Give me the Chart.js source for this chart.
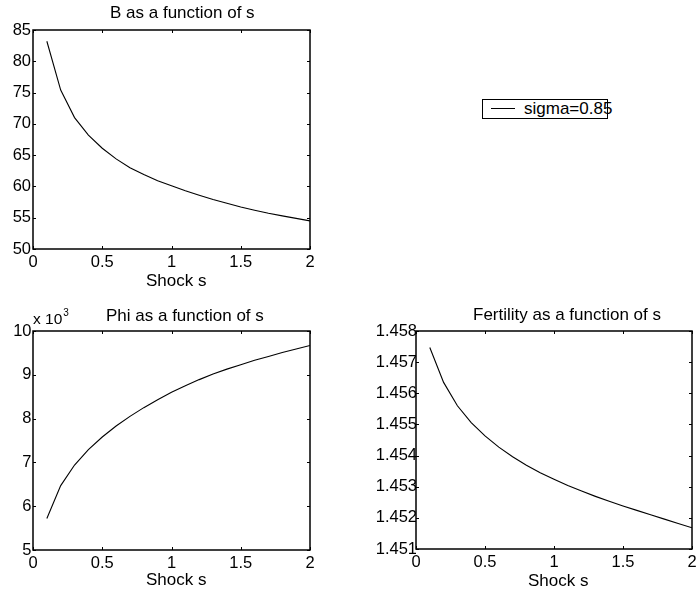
<!DOCTYPE html>
<html><head><meta charset="utf-8">
<script src="https://cdn.jsdelivr.net/npm/chart.js@4.4.0/dist/chart.umd.min.js"></script>
<style>
html,body{margin:0;padding:0;background:#fff;overflow:hidden;width:696px;height:594px;position:relative;}
canvas{position:absolute;}
.t{position:absolute;font-family:"Liberation Sans",Arial,sans-serif;font-size:17px;color:#000;white-space:nowrap;line-height:17px;}
</style></head><body>
<canvas id="c1" width="350" height="290" style="left:0;top:0;width:350px;height:290px"></canvas>
<canvas id="c2" width="350" height="301" style="left:0;top:290px;width:350px;height:301px"></canvas>
<canvas id="c3" width="360" height="300" style="left:350px;top:290px;width:360px;height:300px"></canvas>

<div class="t" style="left:110px;top:4px">B as a function of s</div>
<div class="t" style="left:146px;top:272px">Shock s</div>
<div class="t" style="left:106px;top:307px">Phi as a function of s</div>
<div class="t" style="left:146px;top:571px">Shock s</div>
<div class="t" style="left:473px;top:306px">Fertility as a function of s</div>
<div class="t" style="left:528px;top:572px">Shock s</div>
<div class="t" style="left:33px;top:311px;font-size:15.5px;line-height:15px">x 10<span style="font-size:10px;position:relative;top:-8px;margin-left:1px">3</span></div>

<div style="position:absolute;left:482px;top:99px;width:126px;height:20px;border:1.5px solid #000;box-sizing:border-box"></div>
<div style="position:absolute;left:491px;top:108px;width:24px;height:1px;background:#000"></div>
<div class="t" style="left:524px;top:100px">sigma=0.85</div>

<script>
// ---- data ----
const shock = [0.1,0.2,0.3,0.4,0.5,0.6,0.7,0.8,0.9,1.0,1.1,1.2,1.3,1.4,1.5,1.6,1.7,1.8,1.9,2.0];
const bValues = [83.2,75.4,71.0,68.2,66.1,64.4,63.0,61.9,60.9,60.1,59.3,58.6,57.9,57.3,56.7,56.2,55.7,55.3,54.9,54.5];
const phiValues = [5720,6470,6940,7290,7580,7830,8050,8250,8430,8600,8750,8890,9020,9130,9230,9330,9420,9510,9590,9670];
const fertilityValues = [1.45747,1.45635,1.45560,1.45506,1.45463,1.45427,1.45396,1.45369,1.45345,1.45324,1.45304,1.45286,1.45269,1.45253,1.45238,1.45224,1.45210,1.45196,1.45182,1.45168];
const xTicks = [0,0.5,1,1.5,2];
const bTicks = [50,55,60,65,70,75,80,85];
const phiTicks = [5000,6000,7000,8000,9000,10000];
const fertilityTicks = [1.451,1.452,1.453,1.454,1.455,1.456,1.457,1.458];
const seriesLabel = 'sigma=0.85';

Chart.defaults.font.family = '"Liberation Sans", Arial, sans-serif';
Chart.defaults.color = '#000';

const boxTicks = {
  id: 'boxTicks',
  afterDatasetsDraw(chart) {
    const {ctx, chartArea: a, scales: {x, y}} = chart;
    const L = 3;
    ctx.save();
    ctx.strokeStyle = '#000';
    ctx.lineWidth = 1;
    ctx.beginPath();
    x.ticks.forEach(t => {
      const p = Math.round(x.getPixelForValue(t.value)) + 0.5;
      ctx.moveTo(p, a.bottom); ctx.lineTo(p, a.bottom - L);
      ctx.moveTo(p, a.top); ctx.lineTo(p, a.top + L);
    });
    y.ticks.forEach(t => {
      const p = Math.round(y.getPixelForValue(t.value)) + 0.5;
      ctx.moveTo(a.left, p); ctx.lineTo(a.left + L, p);
      ctx.moveTo(a.right, p); ctx.lineTo(a.right - L, p);
    });
    ctx.stroke();
    ctx.lineWidth = 1.5;
    ctx.strokeRect(a.left, a.top, a.right - a.left, a.bottom - a.top);
    ctx.restore();
  }
};

function makeChart(id, values, yTicks, yMin, yMax, yWidth, yPad, padTop, padRight, fmt) {
  return new Chart(document.getElementById(id), {
    type: 'line',
    data: {
      datasets: [{
        label: seriesLabel,
        data: shock.map((s, i) => ({x: s, y: values[i]})),
        borderColor: '#000',
        borderWidth: 1.1,
        pointRadius: 0,
        tension: 0,
        fill: false
      }]
    },
    options: {
      responsive: false,
      animation: false,
      devicePixelRatio: 1,
      layout: {padding: {left: 0, top: padTop, right: padRight, bottom: 0}},
      plugins: {legend: {display: false}, tooltip: {enabled: false}, title: {display: false}},
      scales: {
        x: {
          type: 'linear', min: 0, max: 2,
          grid: {display: false, drawTicks: false, tickLength: 0}, border: {display: false},
          afterBuildTicks: s => { s.ticks = xTicks.map(v => ({value: v})); },
          afterFit: s => { s.height = 41; },
          ticks: {font: {size: 16.5}, padding: 3.5, maxRotation: 0, autoSkip: false,
                  callback: v => String(v)}
        },
        y: {
          type: 'linear', min: yMin, max: yMax,
          grid: {display: false, drawTicks: false, tickLength: 0}, border: {display: false},
          afterBuildTicks: s => { s.ticks = yTicks.map(v => ({value: v})); },
          afterFit: s => { s.width = yWidth; },
          ticks: {font: {size: 16.5}, padding: yPad, autoSkip: false, callback: fmt}
        }
      }
    },
    plugins: [boxTicks]
  });
}

makeChart('c1', bValues, bTicks, 50, 85, 33, 2, 30, 40, v => String(v));
makeChart('c2', phiValues, phiTicks, 5000, 10000, 33, 1.5, 41, 40, v => String(v / 1000));
makeChart('c3', fertilityValues, fertilityTicks, 1.451, 1.458, 66, -1, 41, 18, v => v.toFixed(3));
</script>
</body></html>
